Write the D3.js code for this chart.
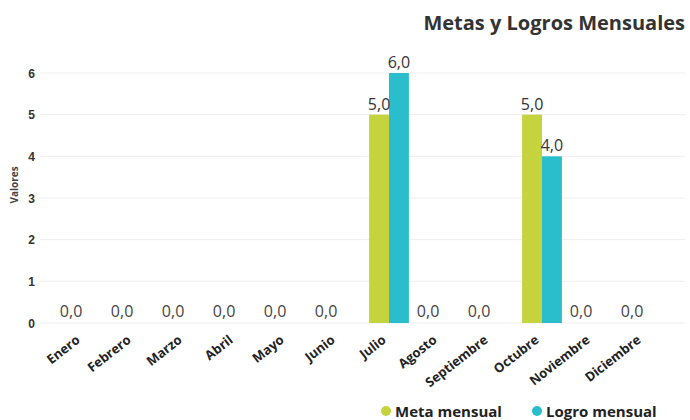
<!DOCTYPE html>
<html><head><meta charset="utf-8">
<script src="https://cdn.jsdelivr.net/npm/d3@7/dist/d3.min.js"></script>
<style>body{margin:0;background:#fff;} svg{display:block;font-family:"Open Sans","Noto Sans",sans-serif;}</style>
</head><body>
<svg id="c" width="690" height="420"></svg>
<script>
const months = ["Enero","Febrero","Marzo","Abril","Mayo","Junio","Julio","Agosto","Septiembre","Octubre","Noviembre","Diciembre"];
const meta = [0,0,0,0,0,0,5,0,0,5,0,0];
const logro = [0,0,0,0,0,0,6,0,0,4,0,0];
const seriesNames = ["Meta mensual","Logro mensual"];
const colors = ["#C5D33C","#2ABDCC"];
const yTicks = [0,1,2,3,4,5,6];

const svg = d3.select("#c");
const x = d3.scaleBand().domain(months).range([57.5,669.5]).paddingInner(0.22).paddingOuter(0.11);
const x1 = d3.scaleBand().domain(seriesNames).range([0,x.bandwidth()]);
const y = d3.scaleLinear().domain([0,6]).range([323,73]);
const fmt = v => d3.format(".1f")(v).replace(".",",");

// gridlines
svg.append("g").selectAll("line").data(yTicks).join("line")
  .attr("x1",40).attr("x2",685).attr("y1",d=>y(d)).attr("y2",d=>y(d))
  .attr("stroke","#eeeeee").attr("stroke-width",1);

// y axis tick labels
const yAxis = d3.axisLeft(y).tickValues(yTicks).tickSize(0).tickPadding(0).tickFormat(d3.format("d"));
const yg = svg.append("g").attr("transform","translate(35,0)").call(yAxis);
yg.select(".domain").remove();
yg.selectAll("text").attr("font-size",12).attr("font-weight","bold").attr("fill","#333").attr("dy","0.35em");

// y title
svg.append("text").attr("transform","translate(18,185) rotate(-90)").attr("text-anchor","middle")
  .attr("font-size",10).attr("font-weight","bold").attr("fill","#444").text("Valores");

// bars
const data = months.map((m,i)=>({m, vals:[meta[i],logro[i]]}));
const groups = svg.append("g").selectAll("g").data(data).join("g")
  .attr("transform",d=>`translate(${x(d.m)},0)`);
groups.selectAll("rect").data(d=>d.vals.map((v,j)=>({v,s:seriesNames[j],j}))).join("rect")
  .attr("x",d=>x1(d.s)).attr("width",x1.bandwidth())
  .attr("y",d=>y(d.v)).attr("height",d=>y(0)-y(d.v)).attr("fill",d=>colors[d.j]);

// data labels
groups.each(function(d){
  const g = d3.select(this);
  if(d.vals[0]===0 && d.vals[1]===0){
    g.append("text").attr("x",x1(seriesNames[0])+x1.bandwidth()/2-2).attr("y",y(0)-6)
      .attr("text-anchor","middle").attr("font-size",16).attr("fill","#444").text(fmt(0));
  } else {
    d.vals.forEach((v,j)=>{
      g.append("text").attr("x",x1(seriesNames[j])+x1.bandwidth()/2).attr("y",y(v)-5)
        .attr("text-anchor","middle").attr("font-size",16).attr("fill","#333").text(fmt(v));
    });
  }
});

// x axis labels (rotated)
svg.append("g").selectAll("text").data(months).join("text")
  .attr("transform",d=>`translate(${x(d)+x.bandwidth()/2-5},338) rotate(-38)`)
  .attr("text-anchor","end").attr("dy","0.35em")
  .attr("font-size",13).attr("font-weight","bold").attr("fill","#222").text(d=>d);

// title
svg.append("text").attr("x",685).attr("y",30).attr("text-anchor","end")
  .attr("font-size",20).attr("font-weight","bold").attr("fill","#333").text("Metas y Logros Mensuales");

// legend
const lx = [386,537];
const lg = svg.append("g").selectAll("g").data(seriesNames).join("g");
lg.append("circle").attr("cx",(d,i)=>lx[i]).attr("cy",411).attr("r",5).attr("fill",(d,i)=>colors[i]);
lg.append("text").attr("x",(d,i)=>lx[i]+9).attr("y",417).attr("font-size",15).attr("font-weight","bold")
  .attr("fill","#222").text(d=>d);
</script>
</body></html>
